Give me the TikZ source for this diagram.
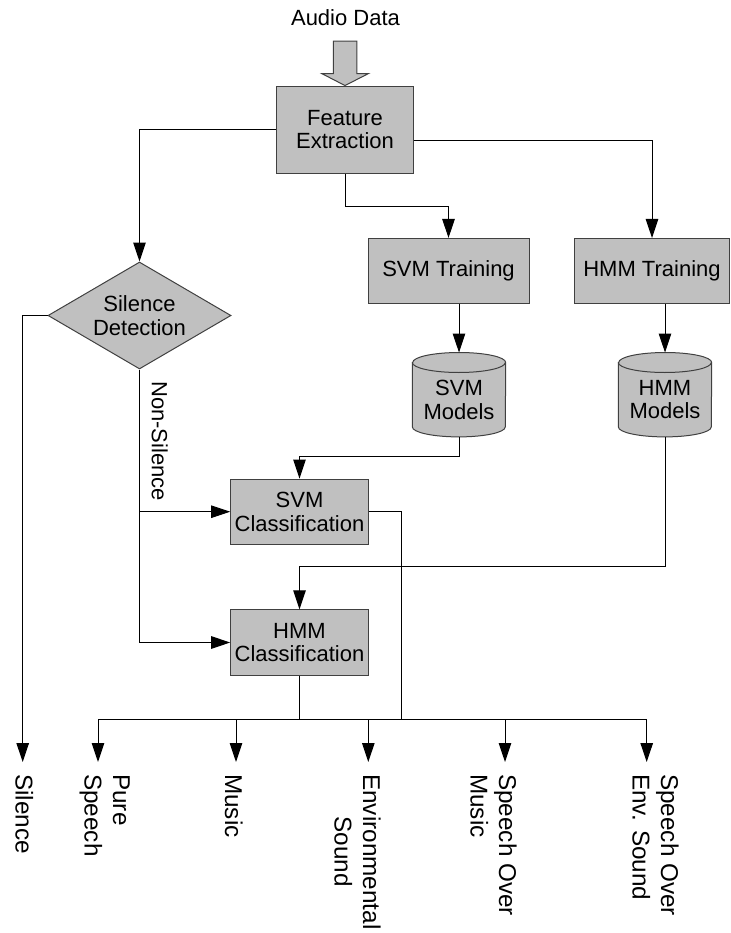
\documentclass[tikz,border=0pt]{standalone}
\usepackage{fontspec}
\setmainfont{Liberation Sans}
\usetikzlibrary{arrows.meta,shapes.geometric,calc,backgrounds}
\definecolor{boxfill}{RGB}{192,192,192}
\definecolor{boxline}{RGB}{64,64,64}

% database drum drawn around a named node (body from top-ellipse centre to bottom)
\newcommand\drumshape[1]{%
  \filldraw[draw=boxline, fill=boxfill, line width=1pt]
    (#1.north west) -- ($(#1.south west)+(0,10)$)
    arc[start angle=180, end angle=360, x radius=46.5, y radius=10]
    -- (#1.north east)
    arc[start angle=0, end angle=180, x radius=46.5, y radius=10] -- cycle;
  \draw[draw=boxline, line width=1pt]
    (#1.north west) arc[start angle=180, end angle=360, x radius=46.5, y radius=10];%
}

\begin{document}
\begin{tikzpicture}[x=1pt, y=1pt,
  lbl/.style={font=\fontsize{22}{23.5}\selectfont, align=center, inner sep=0pt},
  procbox/.style={lbl, rectangle, draw=boxline, fill=boxfill, line width=1pt},
  wire/.style={draw=black, line width=1pt},
  arr/.style={wire, -{Triangle[length=19pt, width=12.5pt]}},
  outlbl/.style={font=\fontsize{24.3}{28.5}\selectfont, inner sep=0pt,
    rotate=-90, anchor=north west, align=left},
]
\useasboundingbox (0,0) rectangle (730,-933);

% processing blocks
\node[lbl] (audio) at (345.5,-18) {Audio Data};
\node[procbox, minimum width=136.6pt, minimum height=87.3pt] (fe) at (345,-129.7) {Feature\\Extraction};
\node[lbl, shape=diamond, draw=boxline, fill=boxfill, line width=1pt, aspect=1.71,
      minimum width=183pt, minimum height=107pt] (sil) at (139.5,-315.5) {Silence\\Detection};
\node[procbox, minimum width=161pt, minimum height=65.5pt] (svmt) at (448.5,-271.2) {SVM Training};
\node[procbox, minimum width=155pt, minimum height=65pt] (hmmt) at (652,-271) {HMM Training};
\node[lbl, minimum width=93pt, minimum height=74pt] (svmm) at (459,-399.7) {SVM\\Models};
\node[lbl, minimum width=93pt, minimum height=74pt] (hmmm) at (665,-399.7) {HMM\\Models};
\node[procbox, minimum width=137.6pt, minimum height=65.3pt] (svmc) at (299.5,-511.7) {SVM\\Classification};
\node[procbox, minimum width=137.6pt, minimum height=65.3pt] (hmmc) at (299.5,-642.5) {HMM\\Classification};

\begin{scope}[on background layer]
  \drumshape{svmm}
  \drumshape{hmmm}
\end{scope}

% block arrow for the incoming audio
\filldraw[draw=boxline, fill=boxfill, line width=1pt]
  (fe.north) -- ++(-23.3,12) -- ++(11.7,0) -- ++(0,32.3) -- ++(23.4,0)
  -- ++(0,-32.3) -- ++(11.7,0) -- cycle;

% output classes
\coordinate (bus)    at (0,-719);
\coordinate (jsvm)   at (401,-719);
\coordinate (tsil)   at (22.7,-762);
\coordinate (tpure)  at (98,-762);
\coordinate (tmusic) at (236,-762);
\coordinate (tenv)   at (368.3,-762);
\coordinate (tsom)   at (505,-762);
\coordinate (tsoe)   at (646.7,-762);

\node[outlbl] (lsil)   at (33.5,-774) {Silence};
\node[outlbl] (lpure)  at (130,-774) {Pure\\Speech};
\node[outlbl] (lmusic) at (243,-774) {Music};
\node[outlbl, align=center] (lenv) at (381,-774) {Environmental\\Sound};
\node[outlbl] (lsom)   at (517,-774) {Speech Over\\Music};
\node[outlbl] (lsoe)   at (679,-774) {Speech Over\\Env. Sound};
\node[outlbl, font=\fontsize{22}{23.5}\selectfont] (nonsil) at (168,-381) {Non-Silence};

% connectors
\draw[arr] (fe.west) -| (sil.north);
\draw[arr] (fe.south) -- ++(0,-32.5) -| (svmt.north);
\draw[arr] ($(fe.north east)!0.62!(fe.south east)$) -| (hmmt.north);
\draw[arr] (svmt.south -| svmm.north) -- ($(svmm.north)+(0,10)$);
\draw[arr] (hmmt.south -| hmmm.north) -- ($(hmmm.north)+(0,10)$);
\draw[arr] (svmm.south) -- ++(0,-20) -| (svmc.north);
\draw[arr] (hmmm.south) -- ++(0,-130) -| (hmmc.north);
\draw[arr] (sil.south) |- (hmmc.west);
\draw[arr] (sil.south |- svmc.west) -- (svmc.west);
\draw[arr] (sil.west) -| (tsil);
\draw[wire] (hmmc.south) -- (hmmc.south |- bus);
\draw[wire] (svmc.east) -| (jsvm);
\draw[wire] (tpure |- bus) -- (tsoe |- bus);
\foreach \t in {tpure,tmusic,tenv,tsom,tsoe}
  \draw[arr] (\t |- bus) -- (\t);
\end{tikzpicture}
\end{document}
